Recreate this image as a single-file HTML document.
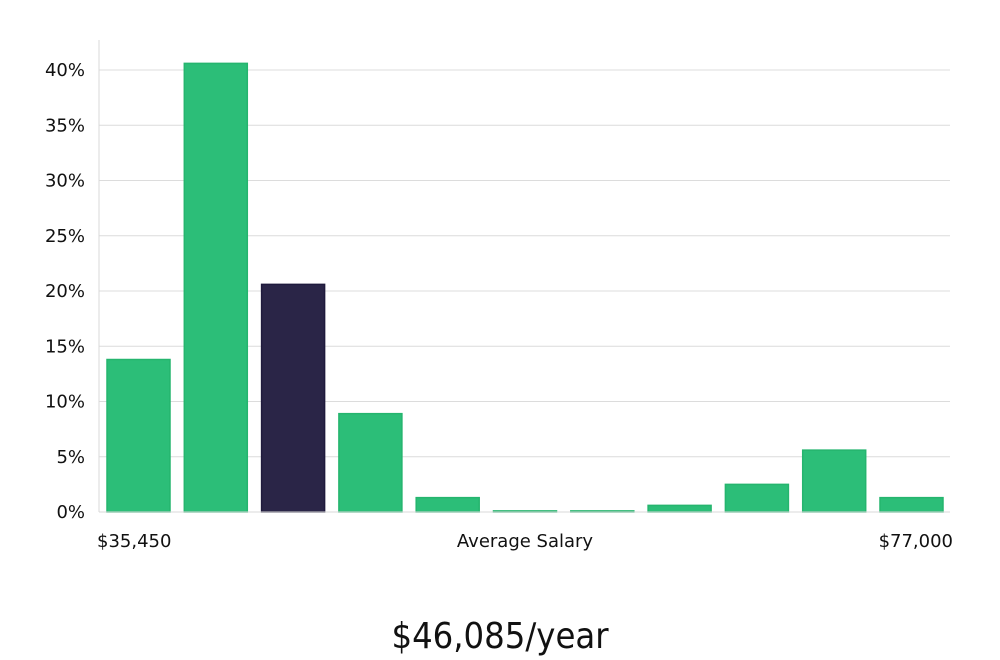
<!DOCTYPE html>
<html><head><meta charset="utf-8"><style>
html,body{margin:0;padding:0;background:#fff;width:1000px;height:660px;overflow:hidden}
svg{display:block}
text{font-family:"DejaVu Sans","Liberation Sans",sans-serif;fill:#111}
</style></head><body>
<svg id="chart" width="1000" height="660" viewBox="0 0 1000 660" xmlns="http://www.w3.org/2000/svg">
<g id="grid"></g>
<g id="yticks"></g>
<line x1="99" y1="40" x2="99" y2="512" stroke="#d8d8d8" stroke-width="1"/>
<g id="bars"></g>
<line x1="99" y1="512" x2="950" y2="512" stroke="#d8d8d8" stroke-width="1"/>
<text x="97" y="547" font-size="18">$35,450</text>
<text x="525" y="547" font-size="18" text-anchor="middle">Average Salary</text>
<text x="953" y="547" font-size="18" text-anchor="end">$77,000</text>
<text x="500" y="648" font-size="36" text-anchor="middle" style="font-family:'Liberation Sans Narrow','DejaVu Sans Condensed','Liberation Sans',sans-serif;font-weight:300">$46,085/year</text>
</svg>
<script>
const values = [13.8, 40.6, 20.6, 8.9, 1.3, 0.1, 0.1, 0.6, 2.5, 5.6, 1.3];
const highlight = [false, false, true, false, false, false, false, false, false, false, false];
const yTicks = [0, 5, 10, 15, 20, 25, 30, 35, 40];
const yTickLabels = ["0%", "5%", "10%", "15%", "20%", "25%", "30%", "35%", "40%"];

const NS = "http://www.w3.org/2000/svg";
const plotLeft = 99, plotRight = 950, y0 = 512, y40 = 70;
function yScale(v){ return y0 - (v/40)*(y0-y40); }
const barStart = 107, step = 77.3, barW = 63;
function xScale(i){ return barStart + i*step; }

const grid = document.getElementById('grid');
const yt = document.getElementById('yticks');
yTicks.forEach((t,i)=>{
  const y = yScale(t);
  if (t>0){
    const l = document.createElementNS(NS,'line');
    
    
    l.setAttribute('x1', plotLeft); l.setAttribute('x2', plotRight);
    l.setAttribute('y1', y); l.setAttribute('y2', y);
    l.setAttribute('stroke', '#dcdcdc'); l.setAttribute('stroke-width','1');
    grid.appendChild(l);
  }
  const tx = document.createElementNS(NS,'text');
  
  
  tx.setAttribute('x', 85); tx.setAttribute('y', y+6);
  tx.setAttribute('text-anchor','end'); tx.setAttribute('font-size','18');
  tx.textContent = yTickLabels[i];
  yt.appendChild(tx);
});
const bars = document.getElementById('bars');
values.forEach((v,i)=>{
  const r = document.createElementNS(NS,'rect');
  
  
  const y = yScale(v);
  r.setAttribute('x', xScale(i)); r.setAttribute('width', barW);
  r.setAttribute('y', y); r.setAttribute('height', Math.max(1, y0 - y));
  r.setAttribute('fill', highlight[i] ? '#2a2547' : '#2cbe78');
  r.setAttribute('stroke', highlight[i] ? '#1f1a3d' : '#25b56e');
  r.setAttribute('stroke-width', '1.5');
  bars.appendChild(r);
});
</script>
</body></html>
